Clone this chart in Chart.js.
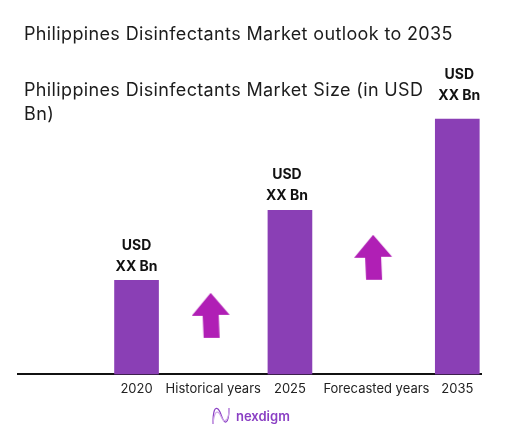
<!DOCTYPE html>
<html>
<head>
<meta charset="utf-8">
<title>Philippines Disinfectants Market</title>
<script src="https://cdn.jsdelivr.net/npm/chart.js@4"></script>
<style>
	html, body { margin: 0; padding: 0; background: #fff; }
	#wrap { position: relative; width: 518px; height: 437px; overflow: hidden; font-family: Inter, sans-serif; color: #1c1c1c; }
	#chart { position: absolute; left: 0; top: 0; }
	.head { position: absolute; left: 24px; font-size: 18px; letter-spacing: 0.36px; line-height: 24px; white-space: nowrap; }
	#logo { position: absolute; left: 211px; top: 406px; display: flex; align-items: center; }
	#logo span { font-size: 13px; font-weight: 600; color: #8a3fc4; margin-left: 5px; }
</style>
</head>
<body>
<div id="wrap">
	<canvas id="chart" width="518" height="437"></canvas>
	<div class="head" style="top:22px">Philippines Disinfectants Market outlook to 2035</div>
	<div class="head" style="top:78px">Philippines Disinfectants Market Size (in USD<br>Bn)</div>
	<div id="logo">
		<svg width="20" height="20" viewBox="0 0 20 20" fill="none" stroke="#8a3fc4" stroke-width="1.2">
			<path d="M2 18 C2 4 4 1 7 3 C11 7 11 17 15 16 C18 15 18 8 18 2"/>
			<path d="M2 18 C3 8 5 4 8 7 C11 11 12 18 16 13 C18 10 18 6 18 2" stroke="#d0a8e8"/>
		</svg>
		<span>nexdigm</span>
	</div>
</div>
<script>
// datos
const barSlots = [0, 11, 23];
const barValues = [94, 164, 255];
const valueLines = ['USD', 'XX Bn'];

const tickSlots = [0, 5.5, 11, 17.2, 23];
const tickLabels = ['2020', 'Historical years', '2025', 'Forecasted years', '2035'];

const arrowSlots = [5.35, 17];
const arrowValues = [58.5, 116.5];

/** Flecha hacia arriba como pointStyle */
function makeArrow(){
	const c = document.createElement('canvas');
	c.width = 39; c.height = 46;
	const g = c.getContext('2d');
	g.fillStyle = '#b01fb5';
	g.beginPath();
	g.moveTo(19, 0);
	g.lineTo(38, 22);
	g.lineTo(27, 22);
	g.lineTo(28, 45);
	g.lineTo(12, 45);
	g.lineTo(11, 23);
	g.lineTo(0, 23);
	g.closePath();
	g.fill();
	return c;
}

// USD / XX Bn encima de cada barra
const liftByBar = [0, 0, 9];
const shiftByBar = [0, -3, 2];
const valueLabels = {
	id: 'valueLabels',
	afterDatasetsDraw(chart){
		const ctx = chart.ctx;
		ctx.save();
		ctx.font = 'bold 14px Inter, sans-serif';
		ctx.fillStyle = '#111';
		ctx.textAlign = 'center';
		ctx.textBaseline = 'middle';
		chart.getDatasetMeta(0).data.forEach((bar, i) => {
			ctx.fillText(valueLines[0], bar.x + shiftByBar[i], bar.y - 35 - liftByBar[i]);
			ctx.fillText(valueLines[1], bar.x + shiftByBar[i], bar.y - 14 - liftByBar[i]);
		});
		ctx.restore();
	}
};

new Chart(document.getElementById('chart').getContext('2d'), {
	data: {
		datasets: [
			{
				type: 'bar',
				label: 'Market size',
				data: barSlots.map((s, i) => ({ x: s, y: barValues[i] })),
				backgroundColor: '#8a3fb5',
				barThickness: 44,
				order: 2
			},
			{
				type: 'scatter',
				label: 'Growth',
				data: arrowSlots.map((s, i) => ({ x: s, y: arrowValues[i] })),
				pointStyle: makeArrow(),
				order: 1
			}
		]
	},
	options: {
		responsive: false,
		animation: false,
		events: [],
		layout: { padding: { left: 18, right: 37, top: 0, bottom: 33 } },
		plugins: { legend: { display: false }, tooltip: { enabled: false } },
		scales: {
			x: {
				type: 'linear',
				offset: false,
				min: -8.5,
				max: 24.7,
				afterBuildTicks(axis){ axis.ticks = tickSlots.map(v => ({ value: v })); },
				grid: { display: false, drawTicks: false },
				border: { color: '#111', width: 2 },
				ticks: {
					autoSkip: false,
					maxRotation: 0,
					padding: 7,
					color: '#222',
					font: { family: 'Inter, sans-serif', size: 13 },
					callback: v => tickLabels[tickSlots.indexOf(v)]
				}
			},
			y: { display: false, min: 0, max: 369 }
		}
	},
	plugins: [valueLabels]
});
</script>
</body>
</html>
